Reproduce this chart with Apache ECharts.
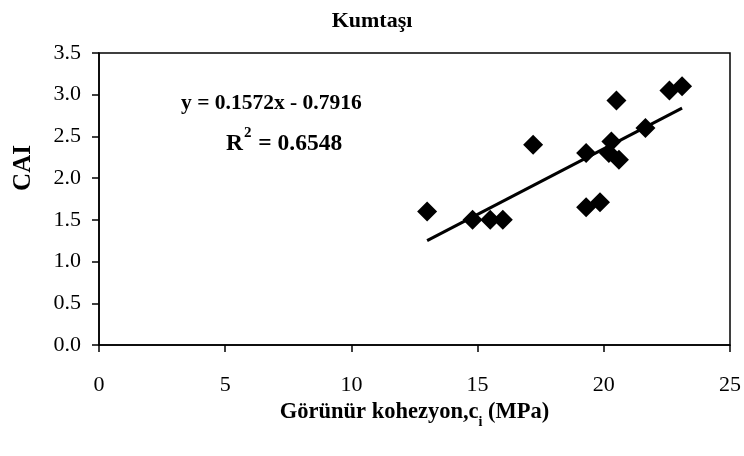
<!DOCTYPE html>
<html>
<head>
<meta charset="utf-8">
<script src="https://cdn.jsdelivr.net/npm/echarts@6/dist/echarts.min.js"></script>
<style>
  html, body { margin: 0; padding: 0; background: #fff; }
  #chart { width: 744px; height: 456px; }
</style>
</head>
<body>
<div id="chart"></div>
<script>
// Apparent cohesion (MPa) vs. Cerchar abrasivity index for sandstone samples
const cohesion = [13.0, 14.8, 15.5, 16.0, 17.2, 19.3, 19.3, 19.85, 20.3, 20.2, 20.5, 20.6, 21.65, 22.6, 23.1];
const cai      = [1.60, 1.50, 1.50, 1.50, 2.40, 2.30, 1.65, 1.71, 2.44, 2.30, 2.93, 2.22, 2.60, 3.05, 3.10];

// Linear fit reported on the chart
const slope = 0.1572;
const intercept = -0.7916;
const r2 = 0.6548;

const xTicks = [0, 5, 10, 15, 20, 25];
const yTicks = [0, 0.5, 1, 1.5, 2, 2.5, 3, 3.5];

const points = cohesion.map((x, i) => [x, cai[i]]);
const xMin = Math.min(...cohesion);
const xMax = Math.max(...cohesion);
const fitLine = [[xMin, slope * xMin + intercept], [xMax, slope * xMax + intercept]];

const serif = '"Liberation Serif", "Times New Roman", serif';
const chart = echarts.init(document.getElementById('chart'), null, { renderer: 'canvas' });

chart.setOption({
  backgroundColor: '#ffffff',
  animation: false,
  title: [
    {
      text: 'Kumtaşı',
      left: 'center',
      top: 5,
      textStyle: { fontFamily: serif, fontWeight: 'bold', fontSize: 22, color: '#000' }
    },
    {
      text: 'y = ' + slope.toFixed(4) + 'x - ' + Math.abs(intercept).toFixed(4),
      left: 176,
      top: 87,
      textStyle: { fontFamily: serif, fontWeight: 'bold', fontSize: 21.5, color: '#000' }
    },
    {
      text: '{a|R}{s|2}{a| = ' + r2.toFixed(4) + '}',
      left: 221,
      top: 121,
      textStyle: {
        rich: {
          a: { fontFamily: serif, fontWeight: 'bold', fontSize: 23.5, color: '#000', lineHeight: 30, verticalAlign: 'bottom' },
          s: { fontFamily: serif, fontWeight: 'bold', fontSize: 15, color: '#000', lineHeight: 30, verticalAlign: 'top', padding: [0, 1, 12, 1] }
        }
      }
    }
  ],
  graphic: [
    {
      type: 'text',
      x: 24,
      y: 168,
      rotation: Math.PI / 2,
      style: {
        text: 'CAI',
        fontFamily: serif, fontWeight: 'bold', fontSize: 25, fill: '#000',
        align: 'center', verticalAlign: 'middle'
      }
    }
  ],
  grid: {
    left: 99, right: 12, top: 53, bottom: 111,
    show: true, borderColor: '#000', borderWidth: 1.5, backgroundColor: '#fff'
  },
  xAxis: {
    type: 'value',
    min: xTicks[0], max: xTicks[xTicks.length - 1], interval: 5,
    name: '{a|Görünür kohezyon,c}{s|i}{a| (MPa)}',
    nameLocation: 'middle',
    nameGap: 50,
    nameTextStyle: {
      rich: {
        a: { fontFamily: serif, fontWeight: 'bold', fontSize: 22.5, color: '#000', lineHeight: 28, verticalAlign: 'top' },
        s: { fontFamily: serif, fontWeight: 'bold', fontSize: 14, color: '#000', lineHeight: 28, verticalAlign: 'bottom', padding: [10, 0, 0, 0] }
      }
    },
    axisLine: { show: true, onZero: false, lineStyle: { color: '#000', width: 1.5 } },
    axisTick: { show: true, inside: false, length: 7, lineStyle: { color: '#000', width: 1.5 } },
    axisLabel: { fontFamily: serif, fontSize: 22, color: '#000', margin: 29 },
    splitLine: { show: false }
  },
  yAxis: {
    type: 'value',
    min: yTicks[0], max: yTicks[yTicks.length - 1], interval: 0.5,
    axisLine: { show: true, onZero: false, lineStyle: { color: '#000', width: 1.5 } },
    axisTick: { show: true, inside: false, length: 7, lineStyle: { color: '#000', width: 1.5 } },
    axisLabel: {
      fontFamily: serif, fontSize: 22, color: '#000', margin: 18,
      formatter: v => v.toFixed(1)
    },
    splitLine: { show: false }
  },
  series: [
    {
      name: 'fit',
      type: 'line',
      data: fitLine,
      symbol: 'none',
      lineStyle: { color: '#000', width: 3 },
      z: 2
    },
    {
      name: 'CAI',
      type: 'scatter',
      data: points,
      symbol: 'diamond',
      symbolSize: 20,
      itemStyle: { color: '#000', opacity: 1 },
      z: 3
    }
  ]
});
</script>
</body>
</html>
